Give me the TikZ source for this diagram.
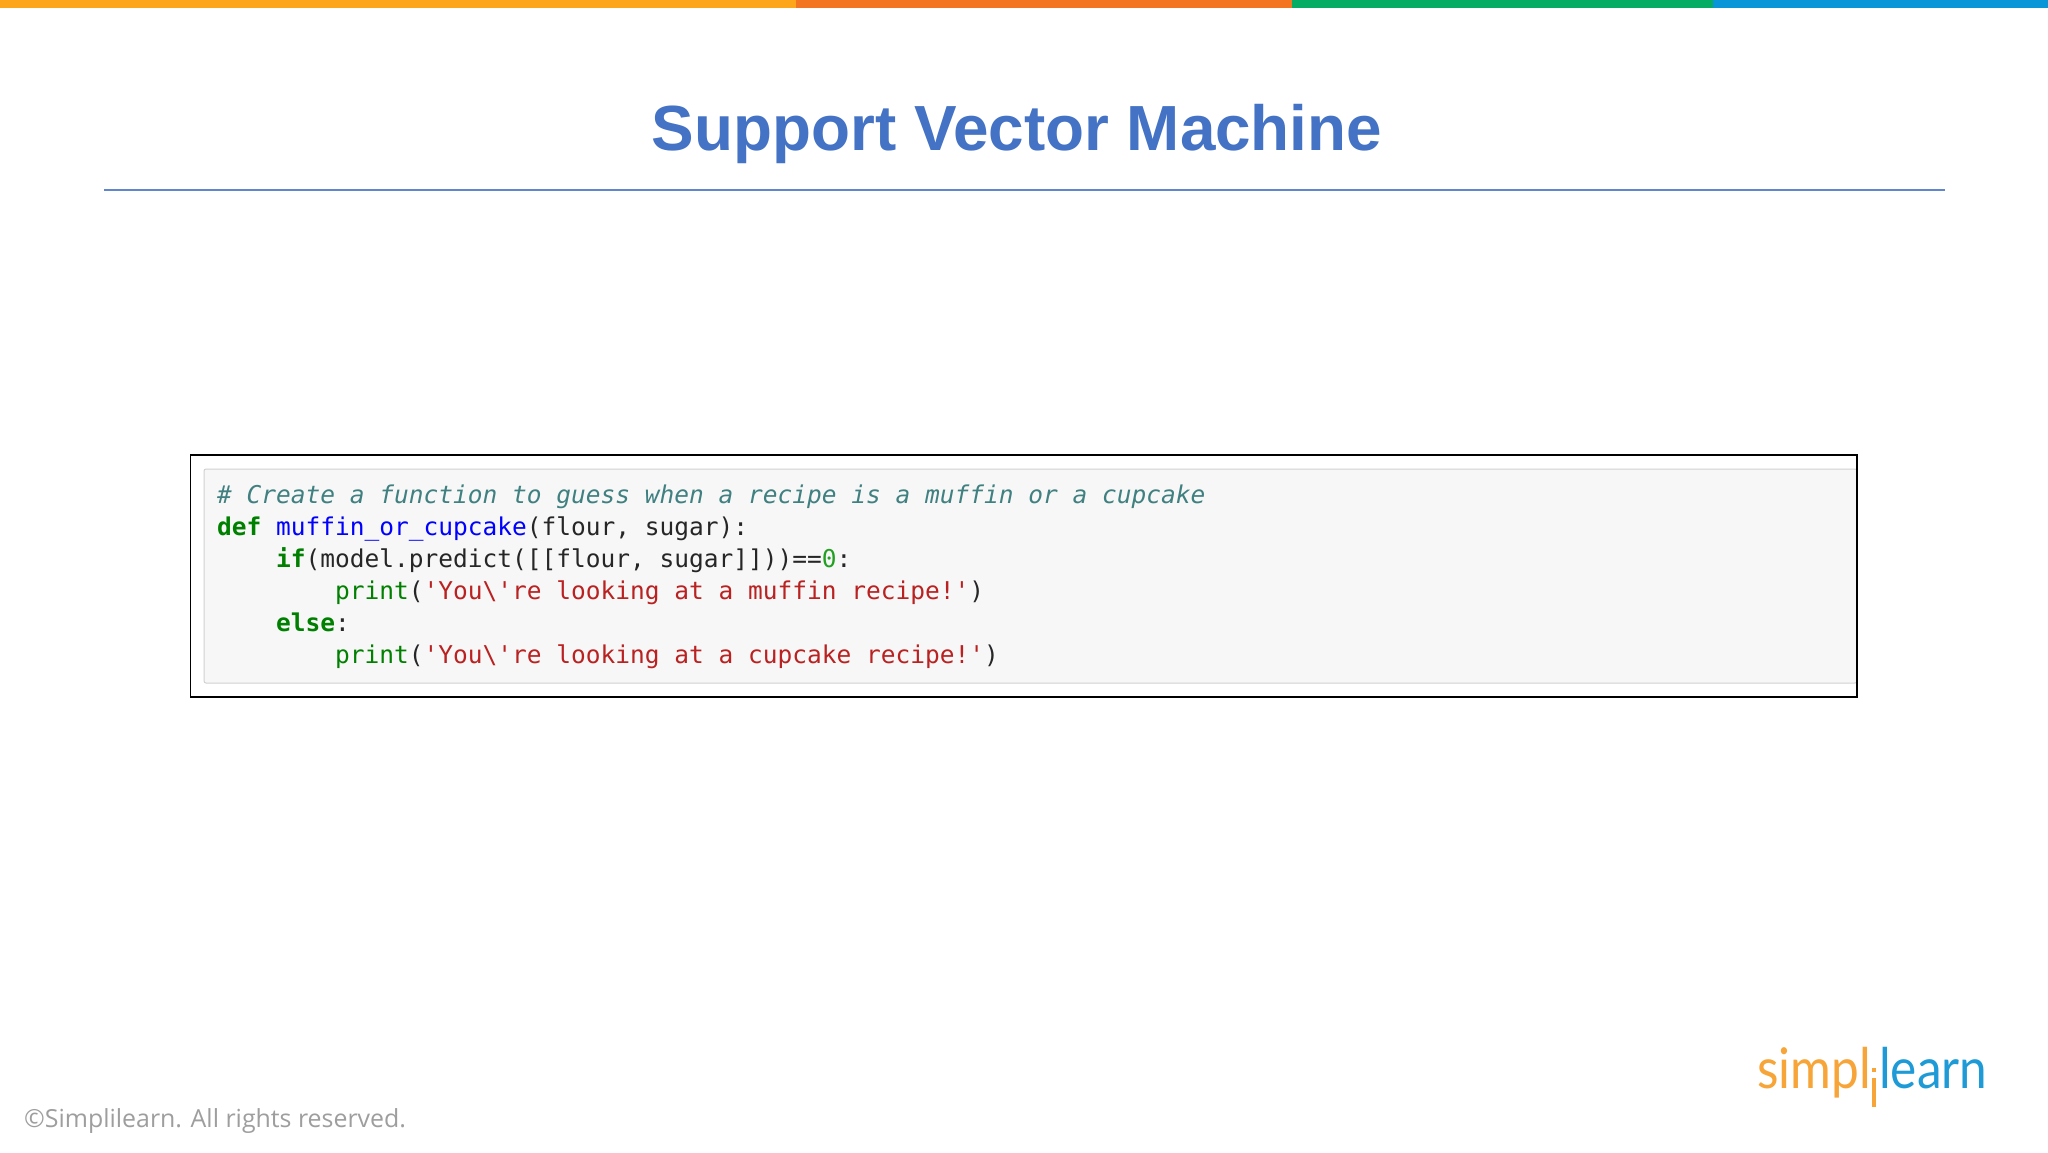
\documentclass[tikz,border=0pt]{standalone}
\usepackage{fontspec}
\setmainfont{Liberation Sans}
\setmonofont{DejaVu Sans Mono}
\newfontfamily\footfont{Open Sans}
\newfontfamily\logofont{Lato}
\definecolor{barA}{HTML}{FDA61C}
\definecolor{barB}{HTML}{F37421}
\definecolor{barC}{HTML}{04AC64}
\definecolor{barD}{HTML}{0996D8}
\definecolor{titleblue}{HTML}{4472C4}
\definecolor{cmt}{HTML}{408080}
\definecolor{kw}{HTML}{008000}
\definecolor{fn}{HTML}{0000FF}
\definecolor{strc}{HTML}{BA2121}
\definecolor{num}{HTML}{22A022}
\definecolor{logoO}{HTML}{F7A538}
\definecolor{logoB}{HTML}{1E9BD7}
\tikzset{
  codeline/.style={anchor=base west,inner sep=0pt,font=\ttfamily\fontsize{24.5}{32}\selectfont,text=black!85},
  logotext/.style={anchor=base west,inner sep=0pt,xscale=0.885,font=\logofont\fontsize{56}{60}\selectfont}
}
\newcommand{\kwd}[1]{\textcolor{kw}{\textbf{#1}}}
\newcommand{\strg}[1]{\textcolor{strc}{#1}}
\begin{document}
\begin{tikzpicture}[x=1pt,y=-1pt]
\useasboundingbox (0,0) rectangle (2048,1152);
\fill[white] (0,0) rectangle (2048,1152);
\fill[barA] (0,0) rectangle (796,8);
\fill[barB] (796,0) rectangle (1292,8);
\fill[barC] (1292,0) rectangle (1713,8);
\fill[barD] (1713,0) rectangle (2048,8);
\node[anchor=base,inner sep=0pt,text=titleblue,font=\bfseries\fontsize{63.8}{70}\selectfont] (title) at (1017,150) {Support Vector Machine};
\draw[titleblue!85,line width=1.4pt] (104,190) -- (1945,190);
\fill[black!3,draw=black!18,line width=1pt,rounded corners=2pt] (204,469) rectangle (1857,683);
\draw[black,line width=1.8pt] (190.5,455) rectangle (1857,697);
\node[codeline] (l1) at (217,503) {\textcolor{cmt}{\textit{\# Create a function to guess when a recipe is a muffin or a cupcake}}};
\node[codeline] (l2) at (217,535) {\kwd{def} \textcolor{fn}{muffin\_or\_cupcake}(flour, sugar):};
\node[codeline] (l3) at (217,567) {\phantom{xxxx}\kwd{if}(model.predict([[flour, sugar]]))==\textcolor{num}{0}:};
\node[codeline] (l4) at (217,599) {\phantom{xxxxxxxx}\textcolor{kw}{print}(\strg{'You\textbackslash 're looking at a muffin recipe!'})};
\node[codeline] (l5) at (217,631) {\phantom{xxxx}\kwd{else}:};
\node[codeline] (l6) at (217,663) {\phantom{xxxxxxxx}\textcolor{kw}{print}(\strg{'You\textbackslash 're looking at a cupcake recipe!'})};
\node[anchor=base west,inner sep=0pt,text=black!38,font=\footfont\fontsize{24.9}{30}\selectfont] (copy) at (24,1127) {©Simplilearn. All rights reserved.};
\node[logotext,text=logoO] (simpl) at (1757,1088) {simpl};
\node[logotext,text=logoB] (learn) at (1879,1088) {learn};
\fill[logoO] (1871.5,1068) rectangle (1875.5,1072);
\fill[logoO] (1871.5,1078) rectangle (1875.5,1107);
\end{tikzpicture}
\end{document}
